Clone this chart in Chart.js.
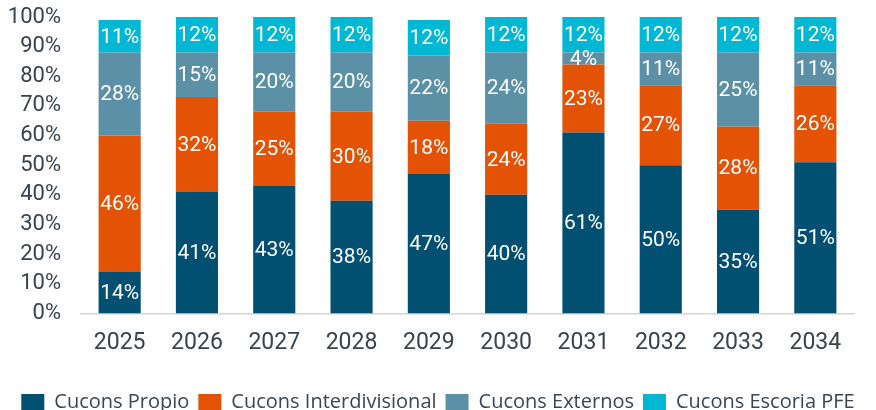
<!DOCTYPE html>
<html lang="es">
<head>
  <meta charset="utf-8" />
  <title>Cucons</title>
  <style>
html, body { margin: 0; padding: 0; background: #fff; }
#chartContainer { width: 876px; height: 410px; }
  </style>
</head>
<body>
  <div id="chartContainer">
    <canvas id="myChart"></canvas>
  </div>
  <script src="https://cdn.jsdelivr.net/npm/chart.js"></script>
  <script>
// datos (%)
const years = ['2025', '2026', '2027', '2028', '2029', '2030', '2031', '2032', '2033', '2034'];
const propio = [14, 41, 43, 38, 47, 40, 61, 50, 35, 51];
const interdivisional = [46, 32, 25, 30, 18, 24, 23, 27, 28, 26];
const externos = [28, 15, 20, 20, 22, 24, 4, 11, 25, 11];
const escoria = [11, 12, 12, 12, 12, 12, 12, 12, 12, 12];
const yTicks = [0, 10, 20, 30, 40, 50, 60, 70, 80, 90, 100];

const tickFont = "Roboto, 'Liberation Sans', sans-serif";

// etiquetas dentro de cada segmento
const barLabels = {
  id: 'barLabels',
  afterDatasetsDraw(chart) {
    const ctx = chart.ctx;
    ctx.save();
    ctx.fillStyle = '#ffffff';
    ctx.font = '21px ' + tickFont;
    ctx.textAlign = 'center';
    ctx.textBaseline = 'middle';
    chart.data.datasets.forEach(function (ds, i) {
      const meta = chart.getDatasetMeta(i);
      meta.data.forEach(function (bar, j) {
        const y = (bar.y + bar.base) / 2;
        ctx.fillText(ds.data[j] + '%', bar.x, y + 1);
      });
    });
    ctx.restore();
  }
};

function makeSet(label, data, color) {
  return {
    label: label,
    data: data,
    backgroundColor: color,
    borderWidth: 0,
    barPercentage: 0.545,
    categoryPercentage: 1.0
  };
}

function drawChart() {
  const ctx = document.getElementById('myChart');
  new Chart(ctx, {
    type: 'bar',
    data: {
      labels: years,
      datasets: [
        makeSet('Cucons Propio', propio, '#014f71'),
        makeSet('Cucons Interdivisional', interdivisional, '#e35205'),
        makeSet('Cucons Externos', externos, '#5b90a7'),
        makeSet('Cucons Escoria PFE', escoria, '#00b8d3')
      ]
    },
    options: {
      responsive: true,
      maintainAspectRatio: false,
      animation: false,
      layout: { padding: { top: 17, right: 0, left: 0, bottom: -12 } },
      plugins: {
        tooltip: { enabled: false },
        legend: {
          position: 'bottom',
          labels: {
            font: { family: "'Open Sans', sans-serif", size: 20 },
            color: '#3b4650',
            boxWidth: 23,
            boxHeight: 16,
            padding: 9
          }
        }
      },
      scales: {
        x: {
          stacked: true,
          grid: { display: false, drawTicks: false },
          border: { display: true, color: '#d4d4d4', width: 1.5 },
          afterFit: function (axis) { axis.height += 10; },
          ticks: {
            font: { family: tickFont, size: 23 },
            color: '#39434c',
            padding: 16,
            maxRotation: 0
          }
        },
        y: {
          stacked: true,
          min: 0,
          max: 100,
          afterBuildTicks: function (axis) {
            axis.ticks = yTicks.map(function (v) { return { value: v }; });
          },
          afterFit: function (axis) {
            axis.width = 81;
            axis.paddingTop = 0;
            axis.paddingBottom = 0;
          },
          grid: { display: false, drawTicks: false },
          border: { display: false },
          ticks: {
            autoSkip: false,
            font: { family: tickFont, size: 22 },
            color: '#39434c',
            padding: 20,
            callback: function (value) { return value + '%'; }
          }
        },
        // eje vacio a la derecha solo para dejar margen
        yRight: {
          position: 'right',
          min: 0,
          max: 100,
          afterFit: function (axis) {
            axis.width = 22;
            axis.paddingTop = 0;
            axis.paddingBottom = 0;
          },
          grid: { display: false, drawTicks: false },
          border: { display: false },
          ticks: { display: false }
        }
      }
    },
    plugins: [barLabels]
  });
}

Promise.all([
  document.fonts.load('22px Roboto'),
  document.fonts.load("20px 'Open Sans'")
]).then(drawChart, drawChart);
  </script>
</body>
</html>
